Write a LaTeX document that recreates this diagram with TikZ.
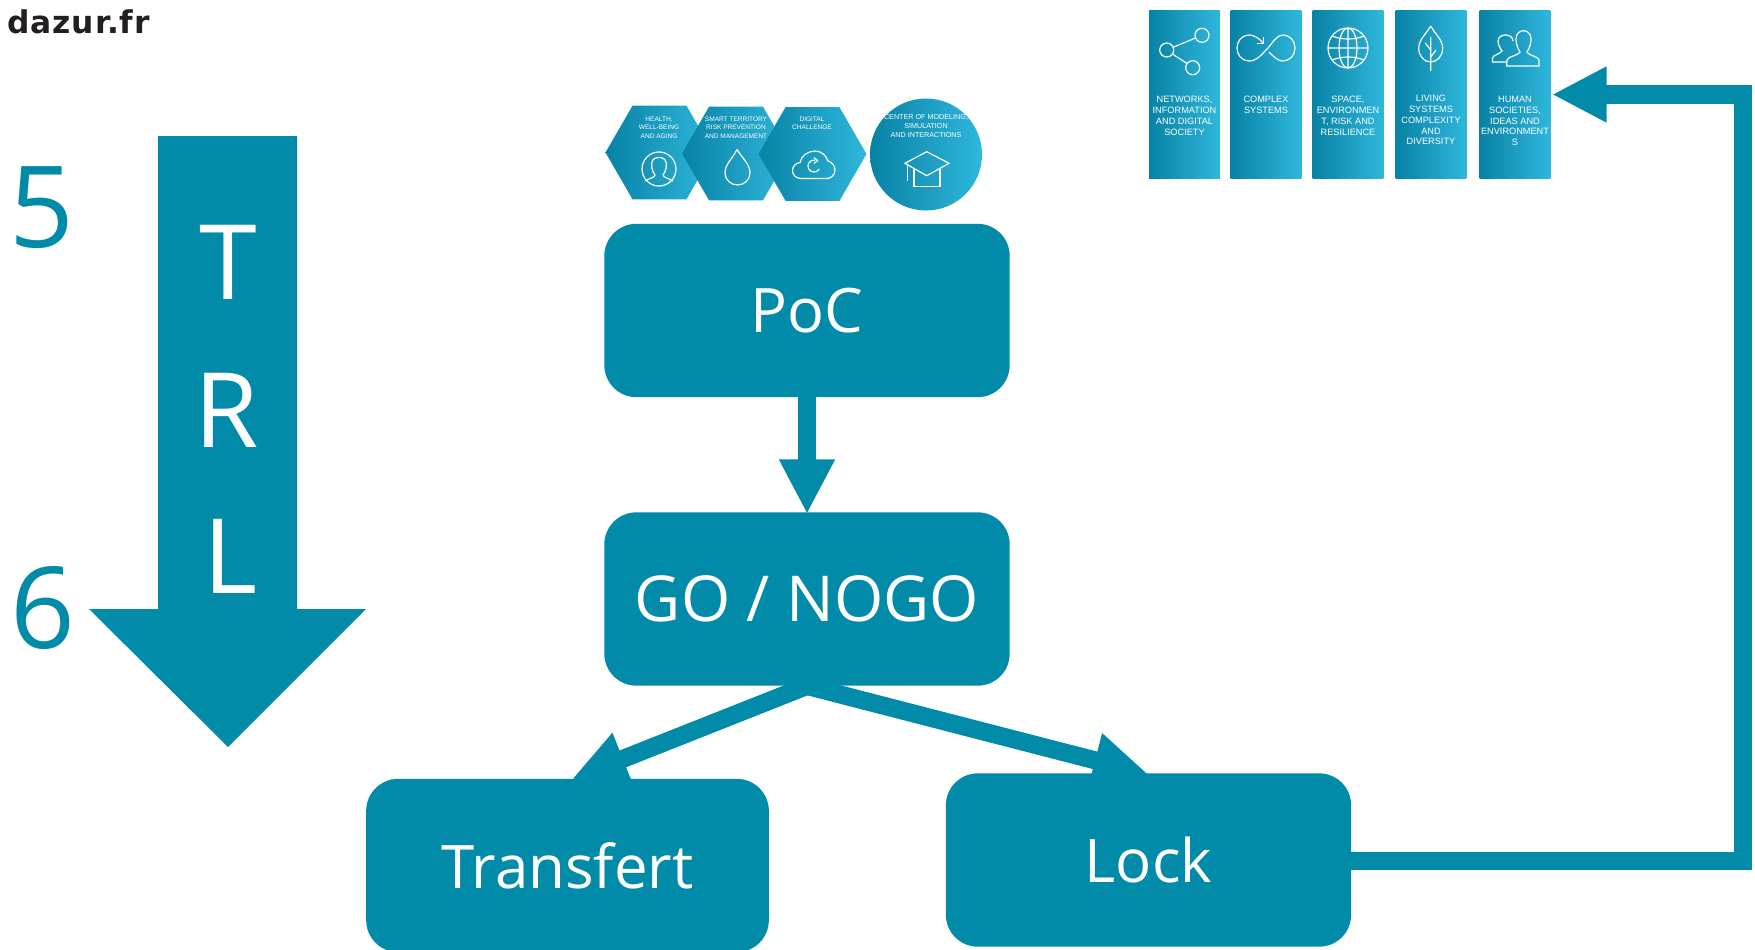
\documentclass[tikz,border=0pt]{standalone}
\usepackage{amsmath}
\usepackage{fontspec}
\usepackage{tikz}
\usetikzlibrary{arrows.meta,shapes.geometric}
\setmainfont{Open Sans}
\newfontfamily\panelfont{Liberation Sans}
\newfontfamily\urlfont[LetterSpace=3]{DejaVu Sans}
\definecolor{trlteal}{RGB}{2,139,168}
\definecolor{gradleft}{RGB}{8,130,165}
\definecolor{gradright}{RGB}{47,183,220}
\definecolor{urlblack}{RGB}{35,31,32}
\tikzset{
  flowbox/.style={rectangle,rounded corners=24pt,fill=trlteal,text=white,inner sep=0pt,minimum height=130pt,font=\fontsize{47}{50}\selectfont},
  flowline/.style={draw=trlteal,line width=13.5pt,-{Triangle[width=39pt,length=41pt]}},
  panelbox/.style={rectangle,left color=gradleft,right color=gradright,inner sep=0pt,minimum width=53pt,minimum height=126pt},
  paneltext/.style={text=white,align=center,inner sep=0pt,anchor=north,font=\panelfont\fontsize{6.9}{8.1}\selectfont},
  hexbox/.style={regular polygon,regular polygon sides=6,left color=gradleft,right color=gradright,inner sep=0pt,minimum size=81pt},
  hextext/.style={text=white,align=center,inner sep=0pt,anchor=north,font=\panelfont\fontsize{4.9}{6.1}\selectfont},
  iconline/.style={draw=white,line width=0.9pt},
  trlletter/.style={text=white,inner sep=0pt,font=\fontsize{78}{80}\selectfont},
  trlnumber/.style={text=trlteal,inner sep=0pt,font=\fontsize{85}{88}\selectfont}
}
\begin{document}
\begin{tikzpicture}[x=0.75pt,y=0.75pt,yscale=-1,xscale=1]
        \useasboundingbox (0,0) rectangle (1755,949);

        % Web address
        \node (url) at (7,22) [anchor=west,inner sep=0pt,text=urlblack,font=\urlfont\bfseries\fontsize{23.5}{25}\selectfont] {dazur.fr};

        % TRL arrow
        \draw [fill=trlteal,draw=none] (158,136) -- (297,136) -- (297,609) -- (366,609) -- (228,747) -- (89,609) -- (158,609) -- cycle ;
        \node (trlT) at (228,262) [trlletter] {T};
        \node (trlR) at (227,410) [trlletter] {R};
        \node (trlL) at (230,556) [trlletter] {L};
        \node (five) at (42,208) [trlnumber] {5};
        \node (six) at (43,608) [trlnumber] {6};

        % Flow boxes
        \node (poc) at (807,310.5) [flowbox,minimum width=304pt,font=\fontsize{46}{50}\selectfont] {PoC};
        \node (gonogo) at (807,599) [flowbox,minimum width=304pt,font=\fontsize{47.5}{50}\selectfont] {GO / NOGO};
        \node (transfert) at (567.5,865.5) [flowbox,minimum width=302pt,font=\fontsize{45}{50}\selectfont] {Transfert};
        \node (lock) at (1148.5,860) [flowbox,minimum width=304pt,font=\fontsize{45}{50}\selectfont] {Lock};

        % Top panels
        \node (networks) at (1184.5,94.5) [panelbox] {};
        \node (complex) at (1266,94.5) [panelbox] {};
        \node (space) at (1348,94.5) [panelbox] {};
        \node (living) at (1431,94.5) [panelbox] {};
        \node (human) at (1515,94.5) [panelbox] {};
        \node (networkstext) at (1184.5,94) [paneltext,yshift=-1.5pt] {NETWORKS,\\INFORMATION\\AND DIGITAL\\SOCIETY};
        \node (complextext) at (1266,94) [paneltext,yshift=-1.5pt] {COMPLEX\\SYSTEMS};
        \node (spacetext) at (1348,94) [paneltext,yshift=-1.5pt] {SPACE,\\ENVIRONMEN\\T, RISK AND\\RESILIENCE};
        \node (livingtext) at (1431,93) [paneltext,yshift=-1.5pt] {LIVING\\SYSTEMS\\COMPLEXITY\\AND\\DIVERSITY};
        \node (humantext) at (1515,94) [paneltext,yshift=-1.5pt] {HUMAN\\SOCIETIES,\\IDEAS AND\\ENVIRONMENT\\S};

        % Hexagons and circle
        \node (health) at (659.5,152.5) [hexbox] {};
        \node (smart) at (736,153.5) [hexbox] {};
        \node (digital) at (812.5,154) [hexbox] {};
        \node (center) at (926,154.5) [circle,left color=gradleft,right color=gradright,inner sep=0pt,minimum size=84pt] {};
        \node (healthtext) at (659,117) [hextext] {HEALTH,\\WELL-BEING\\AND AGING};
        \node (smarttext) at (736,117) [hextext] {SMART TERRITORY\\RISK PREVENTION\\AND MANAGEMENT};
        \node (digitaltext) at (812,117) [hextext] {DIGITAL\\CHALLENGE};
        \node (centertext) at (926,114.5) [hextext,font=\panelfont\fontsize{5.4}{6.5}\selectfont] {CENTER OF MODELING,\\SIMULATION\\AND INTERACTIONS};

        % Connectors
        \coordinate (transfertin) at (572,779);
        \coordinate (lockin) at (1148,774);
        \coordinate (turn) at (1743,94.5);
        \draw [flowline,shorten >=-1.5pt] (poc.south) -- (gonogo.north);
        \draw [flowline,line cap=round] (gonogo.south) -- (transfertin);
        \draw [flowline,line cap=round] (gonogo.south) -- (lockin);
        \draw [flowline,shorten >=1pt,line join=miter] ([yshift=1pt]lock.east) -| (turn) -- (human.east);

        % Icon network
        \draw [iconline] (1166.7,50) circle (7) (1202,35.3) circle (7) (1192.7,67.7) circle (7);
        \draw [iconline] (1173,47.3) -- (1195.5,38) (1172.5,54) -- (1187,63.5);
        % Icon infinity
        \draw [iconline] (1263,43) .. controls (1258,37) and (1253,35) .. (1249,35) .. controls (1242,35) and (1237,41) .. (1237,48) .. controls (1237,55) and (1242,61) .. (1249,61) .. controls (1257,61) and (1262,54) .. (1268,48) .. controls (1273,42) and (1277,35) .. (1283,35) .. controls (1290,35) and (1295,41) .. (1295,48) .. controls (1295,55) and (1290,61) .. (1283,61) .. controls (1278,61) and (1274,57) .. (1269,52);
        \draw [iconline] (1257,43.5) -- (1263.5,43.5) -- (1263.5,37.5);
        % Icon globe
        \draw [iconline] (1348,48) circle (20) (1348,48) ellipse (9 and 20) (1348,28) -- (1348,68) (1328,48) -- (1368,48);
        \draw [iconline] (1332,36) .. controls (1342,40) and (1354,40) .. (1364,36) (1332,60) .. controls (1342,56) and (1354,56) .. (1364,60);
        % Icon leaf
        \draw [iconline] (1430.7,26) .. controls (1426,34) and (1418.7,40) .. (1418.7,48) .. controls (1418.7,56) and (1424,62) .. (1430.7,62) .. controls (1437,62) and (1442.7,56) .. (1442.7,48) .. controls (1442.7,40) and (1435,34) .. (1430.7,26);
        \draw [iconline] (1430.7,37) -- (1430.7,71) (1425,42.7) -- (1430.7,50) (1436,50) -- (1430.7,57);
        % Icon people
        \draw [iconline] (1507,62) -- (1492.5,62) -- (1492.5,58) .. controls (1493,55) and (1500,54) .. (1502,51) .. controls (1499,47) and (1498,43) .. (1498,41) .. controls (1498,33) and (1513,33) .. (1513,41);
        \draw [iconline] (1506.7,66) -- (1539,66) -- (1539,60) .. controls (1538,56) and (1529,56) .. (1527,52) .. controls (1530,47) and (1531,43) .. (1531,39) .. controls (1531,28) and (1516,28) .. (1516,39) .. controls (1516,43) and (1517,47) .. (1520,52) .. controls (1518,56) and (1508,56) .. (1507,60) -- cycle;
        % Icon person
        \draw [iconline] (659,169) circle (17);
        \draw [iconline] (645,181) .. controls (650,178) and (654,178) .. (655,175) .. controls (652,171) and (651,166) .. (652,162) .. controls (653,156) and (665,156) .. (666,162) .. controls (667,166) and (666,171) .. (663,175) .. controls (664,178) and (668,178) .. (673,181);
        % Icon drop
        \draw [iconline] (737,149.5) .. controls (733,158) and (725,164) .. (725,173) .. controls (725,180) and (731,185) .. (737.5,185) .. controls (744,185) and (750,180) .. (750,173) .. controls (750,164) and (742,158) .. (737,149.5);
        % Icon cloud
        \draw [iconline] (801,178.5) .. controls (795,178.5) and (792.5,174) .. (792.5,170.5) .. controls (792.5,166) and (796,163) .. (800,162.5) .. controls (801,156) and (808,151) .. (815,151) .. controls (821,151) and (826,155) .. (828,161) .. controls (832,162) and (835,166) .. (835,170) .. controls (835,175) and (831,178.5) .. (827,178.5) -- cycle;
        \draw [iconline] (819.2,169) arc [start angle=30,end angle=280,radius=6];
        \draw [iconline] (814,157.5) -- (817.5,160.5) -- (814,163.5);
        % Icon cap
        \draw [iconline] (926.7,151.7) -- (949,163.3) -- (926.7,175.7) -- (905,163.3) -- cycle;
        \draw [iconline] (914,168.3) -- (914,186.7) -- (940,186.7) -- (940,168.3) (907.3,165) -- (907.3,181);
\end{tikzpicture}
\end{document}
